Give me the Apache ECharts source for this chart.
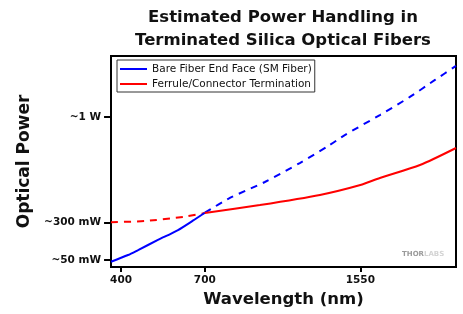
<!DOCTYPE html>
<html>
<head>
<meta charset="utf-8">
<title>Estimated Power Handling in Terminated Silica Optical Fibers</title>
<script src="https://cdn.jsdelivr.net/npm/echarts@6/dist/echarts.min.js"></script>
<style>
    html, body { margin: 0; padding: 0; background: #fff; }
    #chart { width: 463px; height: 314px; }
</style>
</head>
<body>
<div id="chart"></div>
<script>
// x axis is not linear in nm: labelled ticks and where they sit along the axis (0..1)
var xTickNm = [400, 700, 1550];
var xTickFrac = [0.029, 0.272, 0.723];
var xRangeNm = [364, 2073];

// y axis (mW), only three labelled ticks
var yTickMw = [50, 300, 1000];
var yTickLabels = ['~50 mW', '~300 mW', '~1 W'];
var yRangeMw = [3.5, 1405];

// bare fiber end face, measured part and extrapolation
var bareNm = [364, 425, 461, 532, 604, 657, 700];
var bareMw = [38, 83, 116, 183, 249, 311, 364];
var bareExtNm = [700, 837, 1028, 1219, 1383, 1465, 1657, 1821, 1958, 2073];
var bareExtMw = [364, 462, 568, 694, 814, 880, 1013, 1133, 1246, 1339];

// ferrule / connector termination
var ferruleExtNm = [364, 486, 629, 700];
var ferruleExtMw = [301, 309, 338, 362];
var ferruleNm = [700, 1001, 1329, 1550, 1657, 1876, 2073];
var ferruleMw = [362, 415, 482, 548, 595, 681, 794];

var names = ['Bare Fiber End Face (SM Fiber)', 'Ferrule/Connector Termination'];

function warp(nm) {
    var i = nm < xTickNm[1] ? 0 : 1;
    var k = (xTickFrac[i + 1] - xTickFrac[i]) / (xTickNm[i + 1] - xTickNm[i]);
    return xTickFrac[i] + (nm - xTickNm[i]) * k;
}

function pairs(xs, ys) {
    return xs.map(function (x, i) { return [warp(x), ys[i]]; });
}

var xTickPos = xTickNm.map(warp);

function lineSeries(name, xs, ys, color, dashed) {
    return {
        name: name,
        type: 'line',
        data: pairs(xs, ys),
        smooth: 0.25,
        symbol: 'none',
        z: dashed ? 2 : 3,
        itemStyle: { color: color },
        lineStyle: { color: color, width: 2, type: dashed ? [7, 6] : 'solid' }
    };
}

var chart = echarts.init(document.getElementById('chart'));
chart.setOption({
    animation: false,
    backgroundColor: '#fff',
    title: {
        text: 'Estimated Power Handling in\nTerminated Silica Optical Fibers',
        left: 283,
        top: 6,
        padding: 0,
        textAlign: 'center',
        textStyle: {
            fontFamily: 'DejaVu Sans',
            fontWeight: 'bold',
            fontSize: 16.5,
            lineHeight: 23,
            color: '#111'
        }
    },
    legend: {
        data: names,
        orient: 'vertical',
        left: 117,
        top: 60,
        padding: [3, 3, 2, 3],
        itemGap: 3,
        itemWidth: 27,
        itemHeight: 2,
        icon: 'rect',
        backgroundColor: '#fff',
        borderColor: '#333',
        borderWidth: 1,
        textStyle: {
            fontFamily: 'DejaVu Sans',
            fontSize: 10.5,
            lineHeight: 12,
            color: '#111'
        }
    },
    grid: {
        left: 111,
        right: 7,
        top: 56,
        bottom: 47,
        show: true,
        borderColor: '#000',
        borderWidth: 2
    },
    xAxis: {
        type: 'value',
        min: warp(xRangeNm[0]),
        max: warp(xRangeNm[1]),
        name: 'Wavelength (nm)',
        nameLocation: 'middle',
        nameGap: 23,
        nameTextStyle: { fontFamily: 'DejaVu Sans', fontWeight: 'bold', fontSize: 16.5, color: '#111' },
        splitLine: { show: false },
        axisLine: { lineStyle: { color: '#000', width: 2 } },
        axisTick: { customValues: xTickPos, length: 5, lineStyle: { color: '#000', width: 2 } },
        axisLabel: {
            customValues: xTickPos,
            margin: 8,
            fontFamily: 'DejaVu Sans',
            fontWeight: 'bold',
            fontSize: 10.5,
            color: '#111',
            formatter: function (v) {
                var best = 0;
                xTickPos.forEach(function (p, i) {
                    if (Math.abs(p - v) < Math.abs(xTickPos[best] - v)) best = i;
                });
                return String(xTickNm[best]);
            }
        }
    },
    yAxis: {
        type: 'value',
        min: yRangeMw[0],
        max: yRangeMw[1],
        name: 'Optical Power',
        nameLocation: 'middle',
        nameGap: 77,
        nameTextStyle: { fontFamily: 'DejaVu Sans', fontWeight: 'bold', fontSize: 17, color: '#111' },
        splitLine: { show: false },
        axisLine: { show: true, lineStyle: { color: '#000', width: 2 } },
        axisTick: { show: true, customValues: yTickMw, length: 7, lineStyle: { color: '#000', width: 2 } },
        axisLabel: {
            customValues: yTickMw,
            margin: 10,
            fontFamily: 'DejaVu Sans',
            fontWeight: 'bold',
            fontSize: 10.5,
            color: '#111',
            formatter: function (v) {
                return yTickLabels[yTickMw.indexOf(v)];
            }
        }
    },
    graphic: [{
        type: 'text',
        left: 402,
        top: 251,
        style: {
            text: '{a|THOR}{b|LABS}',
            rich: {
                a: { fontFamily: 'DejaVu Sans', fontWeight: 'bold', fontSize: 7, fill: '#9a9a9a' },
                b: { fontFamily: 'DejaVu Sans', fontWeight: 'bold', fontSize: 7, fill: '#d4d4d4' }
            }
        }
    }],
    series: [
        lineSeries(names[0] + ' (extrapolated)', bareExtNm, bareExtMw, '#0000ff', true),
        lineSeries(names[1] + ' (extrapolated)', ferruleExtNm, ferruleExtMw, '#ff0000', true),
        lineSeries(names[0], bareNm, bareMw, '#0000ff', false),
        lineSeries(names[1], ferruleNm, ferruleMw, '#ff0000', false)
    ]
});
</script>
</body>
</html>
